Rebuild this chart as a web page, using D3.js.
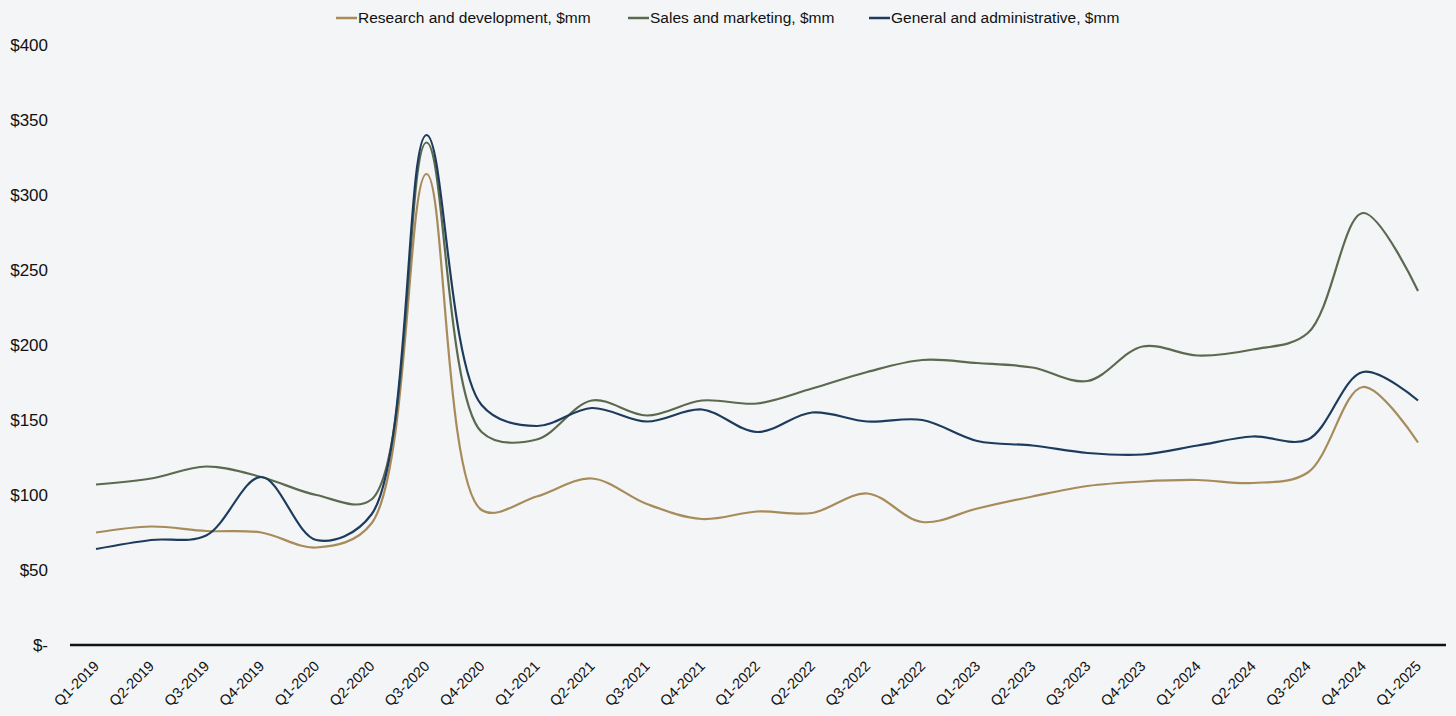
<!DOCTYPE html>
<html>
<head>
<meta charset="utf-8">
<script src="https://cdn.jsdelivr.net/npm/d3@7"></script>
<style>
  html, body { margin: 0; padding: 0; background: #f3f5f7; }
  svg { display: block; font-family: "Liberation Sans", Arial, sans-serif; }
</style>
</head>
<body>
<div id="chart"></div>
<script>
// Quarters on the x axis
const quarters = ["Q1-2019", "Q2-2019", "Q3-2019", "Q4-2019", "Q1-2020", "Q2-2020", "Q3-2020", "Q4-2020",
  "Q1-2021", "Q2-2021", "Q3-2021", "Q4-2021", "Q1-2022", "Q2-2022", "Q3-2022", "Q4-2022",
  "Q1-2023", "Q2-2023", "Q3-2023", "Q4-2023", "Q1-2024", "Q2-2024", "Q3-2024", "Q4-2024", "Q1-2025"]

// $mm per quarter
const researchDev = [75, 79, 76, 75, 65, 81, 314, 90, 99, 111, 94, 84, 89, 88, 101, 82, 91, 99, 106, 109, 110, 108, 115, 172, 135]
const salesMarketing = [107, 111, 119, 112, 100, 97, 335, 142, 137, 163, 153, 163, 161, 171, 182, 190, 188, 185, 176, 199, 193, 197, 208, 288, 236]
const generalAdmin = [64, 70, 73, 112, 70, 87, 340, 160, 146, 158, 149, 157, 142, 155, 149, 150, 136, 133, 128, 127, 133, 139, 137, 182, 163]

const seriesNames = ["Research and development, $mm", "Sales and marketing, $mm", "General and administrative, $mm"]
const seriesColors = ["#a88b5a", "#5b6a4f", "#1d3b5c"]
const yTicks = [0, 50, 100, 150, 200, 250, 300, 350, 400]

let width = 1456
let height = 716

let svg = d3.select("#chart").append("svg")
    .attr("width", width)
    .attr("height", height)

let x = d3.scalePoint()
    .domain(quarters)
    .range([96, 1418])

let y = d3.scaleLinear()
    .domain([0, 400])
    .range([645, 45])

// y labels, no axis line
svg.append("g").selectAll("text")
    .data(yTicks)
    .enter().append("text")
    .attr("x", 48)
    .attr("y", (d) => y(d))
    .attr("dy", "0.35em")
    .attr("text-anchor", "end")
    .style("font-size", "17px")
    .style("fill", "#111")
    .text((d) => d === 0 ? "$-" : "$" + d)

// baseline
svg.append("line")
    .attr("x1", 70).attr("x2", 1446)
    .attr("y1", y(0)).attr("y2", y(0))
    .style("stroke", "#0d1412")
    .style("stroke-width", 2.5)

// x labels rotated
svg.append("g").selectAll("text")
    .data(quarters)
    .enter().append("text")
    .attr("text-anchor", "end")
    .attr("transform", (d) => "translate(" + (x(d) + 4) + "," + 667 + ") rotate(-45)")
    .style("font-size", "14.5px")
    .style("fill", "#111")
    .text((d) => d)

let line = d3.line()
    .x((d, i) => x(quarters[i]))
    .y((d) => y(d))
    .curve(d3.curveCatmullRom.alpha(0.5))

let allSeries = [researchDev, salesMarketing, generalAdmin]

// draw in order so blue sits on top
svg.append("g").selectAll("path")
    .data(allSeries)
    .enter().append("path")
    .attr("d", line)
    .style("fill", "none")
    .style("stroke", (d, i) => seriesColors[i])
    .style("stroke-width", 2.2)

// legend
let legendX = [336, 628, 869]
let legend = svg.append("g").selectAll("g")
    .data(seriesNames)
    .enter().append("g")
    .attr("transform", (d, i) => "translate(" + legendX[i] + ",18)")

legend.append("line")
    .attr("x1", 0).attr("x2", 21)
    .style("stroke", (d, i) => seriesColors[i])
    .style("stroke-width", 2.5)

legend.append("text")
    .attr("x", 22)
    .attr("dy", "0.35em")
    .style("font-size", "15.5px")
    .style("fill", "#111")
    .text((d) => d)
</script>
</body>
</html>
